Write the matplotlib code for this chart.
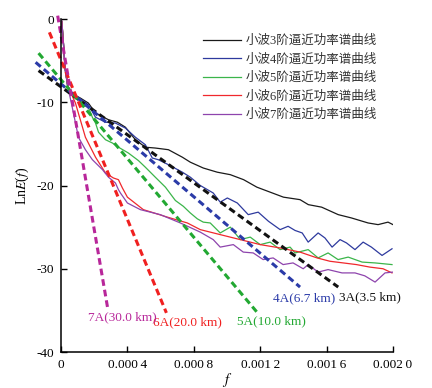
import matplotlib
matplotlib.use('Agg')
import matplotlib.pyplot as plt

plt.rcParams['font.family'] = ['Liberation Serif', 'Noto Sans CJK SC', 'DejaVu Sans']
plt.rcParams['mathtext.fontset'] = 'stix'
plt.rcParams['axes.unicode_minus'] = False

# 小波各阶逼近功率谱曲线 (f, LnE(f))
f3 = [0, 0.000005, 0.000015, 0.000025, 0.00004, 0.00006, 0.000117, 0.000165, 0.000208, 0.000286,
      0.00034, 0.000388, 0.000448, 0.000508, 0.000568, 0.000647, 0.000731, 0.000779, 0.000857,
      0.000941, 0.00102, 0.0011, 0.00118, 0.00126, 0.00134, 0.00144, 0.00149, 0.00157, 0.00167,
      0.00175, 0.00185, 0.00191, 0.00197, 0.002]
e3 = [0, -0.3, -3.0, -6.0, -8.0, -8.9, -9.5, -10.1, -11.3, -12.1,
      -12.4, -13.0, -14.5, -15.4, -15.5, -15.7, -16.6, -17.2, -17.9,
      -18.4, -18.7, -19.3, -20.2, -20.8, -21.4, -21.7, -22.3, -22.6, -23.5,
      -23.9, -24.5, -24.7, -24.4, -24.7]

f4 = [0, 0.000005, 0.000015, 0.000025, 0.00004, 0.00006, 0.000117, 0.000165, 0.000208, 0.000268,
      0.000328, 0.000388, 0.000448, 0.000508, 0.00055, 0.000586, 0.000647, 0.000731, 0.000779,
      0.000839, 0.000917, 0.000959, 0.001002, 0.001062, 0.001128, 0.001188, 0.00125, 0.00132,
      0.001368, 0.00141, 0.001453, 0.001489, 0.001549, 0.00159, 0.001633, 0.001681, 0.00172,
      0.001771, 0.00182, 0.00187, 0.001934, 0.001994]
e4 = [0, -0.3, -3.0, -6.0, -8.0, -8.9, -9.6, -10.3, -11.8, -12.4,
      -12.5, -13.1, -14.2, -15.1, -16.7, -16.9, -17.5, -18.4, -19.0,
      -20.0, -20.9, -22.0, -21.5, -22.1, -23.5, -23.2, -24.3, -25.3,
      -24.9, -25.4, -25.7, -26.8, -25.7, -26.3, -27.4, -26.5, -26.9,
      -27.7, -26.8, -27.4, -28.4, -27.6]

f5 = [0, 0.000005, 0.000015, 0.000025, 0.00004, 0.00006, 0.000117, 0.000165, 0.000189, 0.000208,
      0.000226, 0.000268, 0.00031, 0.000346, 0.000406, 0.000466, 0.000508, 0.000568, 0.000629,
      0.000689, 0.000737, 0.000779, 0.000821, 0.000857, 0.000899, 0.000959, 0.00102, 0.00108,
      0.00114, 0.0012, 0.00126, 0.00132, 0.00138, 0.00141, 0.001489, 0.001549, 0.001609,
      0.001669, 0.00173, 0.001814, 0.001892, 0.001994]
e5 = [0, -0.3, -3.0, -6.0, -8.0, -8.9, -9.8, -10.6, -11.8, -12.5,
      -13.6, -14.5, -14.9, -15.4, -16.1, -17.0, -17.8, -19.0, -20.2,
      -21.8, -22.5, -23.3, -24.0, -24.4, -24.5, -25.7, -25.0, -26.5,
      -26.2, -27.1, -26.8, -27.7, -27.4, -28.1, -27.7, -28.7, -28.1,
      -28.9, -28.6, -29.2, -29.3, -29.5]

f6 = [0, 0.000005, 0.000015, 0.000025, 0.00004, 0.000087, 0.000147, 0.000208, 0.000268, 0.000316,
      0.000346, 0.00037, 0.0004, 0.000496, 0.000641, 0.000761, 0.000839, 0.000959, 0.00108,
      0.0012, 0.00132, 0.00144, 0.001543, 0.00162, 0.0017, 0.00178, 0.00186, 0.00194, 0.001994]
e6 = [0, -0.3, -3.0, -6.0, -8.0, -10.1, -14.2, -16.6, -18.5, -19.1,
      -19.3, -20.3, -21.4, -22.9, -23.8, -24.5, -25.3, -25.9, -26.5,
      -27.1, -27.5, -28.0, -28.7, -29.1, -29.3, -29.5, -29.8, -30.0, -30.5]

f7 = [0, 0.000005, 0.000015, 0.000025, 0.00004, 0.000075, 0.000105, 0.000147, 0.000189, 0.00025,
      0.000286, 0.000328, 0.000346, 0.000358, 0.0004, 0.000478, 0.000598, 0.000719, 0.000839,
      0.000917, 0.000959, 0.001038, 0.001098, 0.001158, 0.001218, 0.001278, 0.001338, 0.001398,
      0.001459, 0.001489, 0.001549, 0.001609, 0.001693, 0.001771, 0.00183, 0.001892, 0.001952, 0.002]
e7 = [0, -0.3, -3.0, -6.0, -8.0, -11.3, -14.2, -15.7, -16.9, -18.1,
      -19.0, -19.7, -20.5, -20.9, -22.1, -22.9, -23.5, -24.5, -25.6,
      -26.5, -27.4, -27.1, -28.0, -28.1, -28.9, -28.7, -29.5, -29.3,
      -30.0, -29.5, -30.4, -30.1, -30.5, -30.5, -30.85, -31.6, -30.5, -30.4]

# 拟合直线端点
fit3 = ([-0.000135, 0.00167], [-6.2, -32.2])
fit4 = ([-0.000153, 0.00144], [-5.2, -32.2])
fit5 = ([-0.000135, 0.00118], [-4.1, -35.2])
fit6 = ([-0.00007, 0.000635], [-1.6, -35.3])
fit7 = ([-0.00002, 0.00028], [0.4, -34.6])

labels = ['小波3阶逼近功率谱曲线', '小波4阶逼近功率谱曲线', '小波5阶逼近功率谱曲线',
          '小波6阶逼近功率谱曲线', '小波7阶逼近功率谱曲线']
fit_labels = ['3A(3.5 km)', '4A(6.7 km)', '5A(10.0 km)', '6A(20.0 km)', '7A(30.0 km)']

c_solid = ['#1a1a1a', '#2E3A9E', '#3BB54A', '#F0282D', '#8E44AD']
c_dash = ['#111111', '#2B3BA8', '#22A832', '#F02020', '#B8279A']

fig = plt.figure(figsize=(4.32, 3.88), dpi=100)
ax = fig.add_axes([61 / 432, 1 - 352 / 388, 332 / 432, 333 / 388])

curves = [(f3, e3), (f4, e4), (f5, e5), (f6, e6), (f7, e7)]
for (x, y), c, lab in zip(curves, c_solid, labels):
    ax.plot(x, y, color=c, lw=0.9, label=lab)

fits = [fit3, fit4, fit5, fit6, fit7]
for (x, y), c in zip(fits, c_dash):
    ax.plot(x, y, color=c, lw=2.2, linestyle=(0, (2.2, 1.3)), clip_on=False)

# 直线标注
tpos = [(0.001676, -33.4), (0.001278, -33.6), (0.001062, -36.3), (0.000556, -36.4), (0.00016, -35.8)]
for (tx, ty), t, c in zip(tpos, fit_labels, c_dash):
    ax.text(tx, ty, t, color=c, fontsize=9.5, ha='left', va='center')

ax.set_xlim(0, 0.002)
ax.set_ylim(-40, 0)
xt = [0, 0.0004, 0.0008, 0.0012, 0.0016, 0.002]
ax.set_xticks(xt)
ax.set_xticklabels(['0', '0.000\u20094', '0.000\u20098', '0.001\u20092', '0.001\u20096', '0.002\u20090'])
ax.set_yticks([0, -10, -20, -30, -40])
ax.set_yticklabels(['0', '-10', '-20', '-30', '-40'])
ax.tick_params(direction='in', length=4, width=1, labelsize=9.5, pad=5)
for s in ['top', 'right']:
    ax.spines[s].set_visible(False)
for s in ['left', 'bottom']:
    ax.spines[s].set_linewidth(1.1)

ax.set_xlabel('$f$', fontsize=10.5, labelpad=0)
ax.set_ylabel('Ln$E$($f$)', fontsize=10, labelpad=4)

ax.legend(loc='upper left', bbox_to_anchor=(203 / 432, 1 - 35 / 388), bbox_transform=fig.transFigure,
          frameon=False, fontsize=9, handlelength=3.0, handletextpad=0.4, labelspacing=0.5,
          borderpad=0, borderaxespad=0, labelcolor='#333333')

fig.savefig('out.png', dpi=100)
